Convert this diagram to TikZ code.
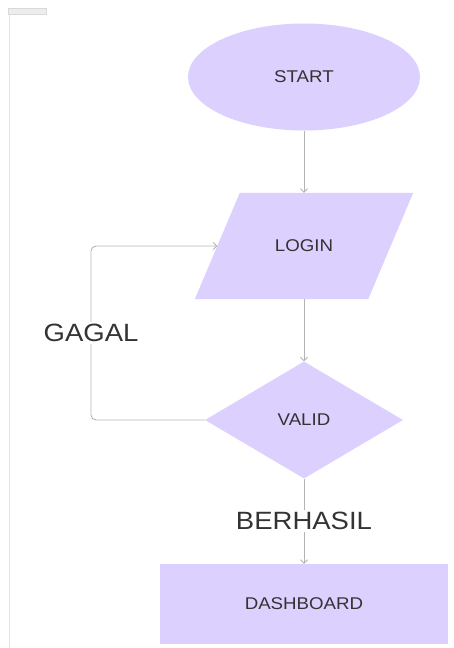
\documentclass[tikz,border=0pt]{standalone}
\usepackage{fontspec}
\usepackage{graphicx}
\setmainfont{Liberation Sans}
\usetikzlibrary{shapes.geometric,arrows.meta,calc,backgrounds}

\definecolor{boxfill}{HTML}{DCD0FE}
\definecolor{linegray}{HTML}{B4B4B4}
\definecolor{inkgray}{HTML}{333333}
\definecolor{framegray}{HTML}{E4E4E4}

% slightly widened sans lettering
\newcommand{\wideword}[1]{\scalebox{1.1}[1]{#1}}

\tikzset{
  flowbox/.style={fill=boxfill, draw=none, inner sep=0pt, text=inkgray,
    font=\fontsize{17}{20}\selectfont},
  conn/.style={draw=linegray, line width=0.9pt,
    -{Straight Barb[length=3.5pt,width=7pt]}},
  branchlabel/.style={fill=white, inner sep=2pt, text=inkgray,
    font=\fontsize{25}{28}\selectfont}
}

\begin{document}
\begin{tikzpicture}[x=1pt,y=-1pt]
  \useasboundingbox (0,0) rectangle (453,648);

  % page frame and tab
  \draw[framegray, line width=1pt] (9.5,14) -- (9.5,648);
  \filldraw[fill=black!7, draw=black!15, line width=0.4pt] (8,8) rectangle (46,14);

  % flowchart nodes
  \node[flowbox, ellipse, minimum width=232pt, minimum height=107pt]
    (start) at (304,77) {\wideword{START}};
  % input block: the node spans the slanted body, its outline is filled below
  \node[flowbox, fill=none, rectangle, minimum width=173pt, minimum height=106pt]
    (login) at (304,246) {\wideword{LOGIN}};
  \node[flowbox, diamond, minimum width=198pt, minimum height=117pt]
    (valid) at (304,420) {\wideword{VALID}};
  \node[flowbox, rectangle, minimum width=288pt, minimum height=80pt]
    (dash) at (304,604) {\wideword{DASHBOARD}};

  \begin{pgfonlayer}{background}
    \fill[boxfill] ([xshift=22.5pt]login.north west) -- ([xshift=22.5pt]login.north east)
      -- ([xshift=-22.5pt]login.south east) -- ([xshift=-22.5pt]login.south west) -- cycle;
  \end{pgfonlayer}

  \coordinate (loopx) at (91,333);

  % connectors
  \draw[conn] (start.south) -- (login.north);
  \draw[conn] (login.south) -- (valid.north);
  \draw[conn] (valid.south) -- (dash.north);
  \draw[conn, rounded corners=5pt] (valid.west) -| (loopx) |- (login.west);

  % branch labels
  \node[branchlabel] (fail) at (loopx) {\wideword{GAGAL}};
  \node[branchlabel] (ok) at ($(valid.south)!0.5!(dash.north)$) {\wideword{BERHASIL}};
\end{tikzpicture}
\end{document}
